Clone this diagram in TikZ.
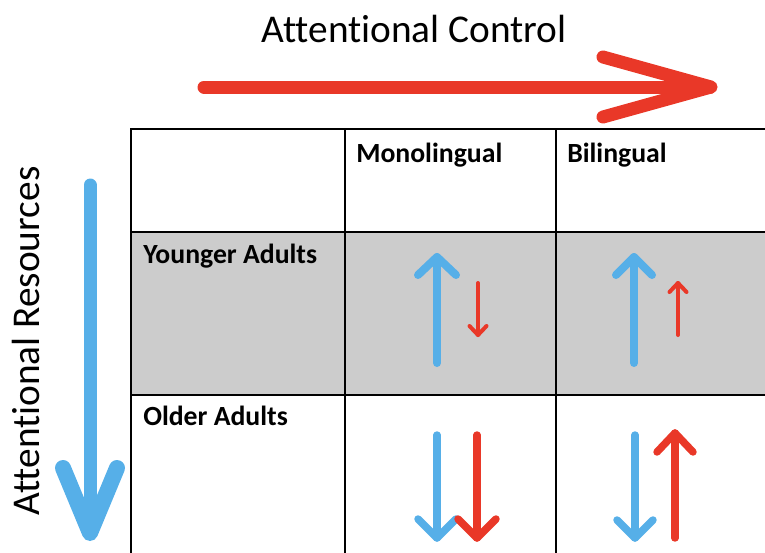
\documentclass[tikz,border=0pt]{standalone}
\usepackage{fontspec}
\setmainfont{Carlito}[Ligatures=NoCommon]
\usetikzlibrary{positioning}
\definecolor{ctrlred}{RGB}{233,56,40}
\definecolor{resblue}{RGB}{86,175,232}
\definecolor{cellgray}{RGB}{204,204,204}

\begin{document}
\begin{tikzpicture}[
    x=0.75pt, y=-0.75pt,
    gridline/.style={draw=black, line width=1.1pt},
    headtxt/.style={anchor=base west, inner sep=0pt, font=\fontsize{20.8}{24}\selectfont\bfseries},
    axistxt/.style={inner sep=0pt, font=\fontsize{29.5}{34}\selectfont},
    arr/.style={line cap=round, line join=round}
]
\useasboundingbox (0,0) rectangle (765,553);

% grey row and grid
\fill[cellgray] (131,232) rectangle (765,395);
\draw[gridline] (765,129) -- (131,129) -- (131,553);
\draw[gridline] (345,129) -- (345,553);
\draw[gridline] (556,129) -- (556,553);
\draw[gridline] (131,232) -- (765,232);
\draw[gridline] (131,395) -- (765,395);

% headings
\node[headtxt] (monohead) at (356,162) {Monolingual};
\node[headtxt] (bihead) at (567,162) {Bilingual};
\node[headtxt] (younghead) at (143,263) {Younger Adults};
\node[headtxt] (oldhead) at (143,425) {Older Adults};

% axes
\node[axistxt, anchor=base] (ctrl) at (414,42) {Attentional Control};
\node[axistxt, anchor=base west, rotate=90] (resources) at (40,516) {Attentional Resources};

\draw[arr, ctrlred, line width=9.75pt] (204,87) -- (710,87);
\draw[arr, ctrlred, line width=9.75pt] (603,57) -- (711,87) -- (603,117);
\draw[arr, resblue, line width=9.75pt] (90,185) -- (90,533);
\draw[arr, resblue, line width=12pt] (63,468) -- (90,533) -- (117,468);

% cell arrows: x / tail / tip / arm y / arm dx / colour / width
\foreach \x/\ya/\yb/\ay/\dx/\col/\lw in {
    437/363/257/275/19/resblue/6,
    478/283/335/326/8.5/ctrlred/3,
    634/363/257/275/18/resblue/6,
    678/335/283/292/8.5/ctrlred/3,
    437/435/538/519/19/resblue/5.6,
    477/435/538/519/19/ctrlred/5.6,
    635/435/538/520/18/resblue/5.6,
    675/538/433/452/18/ctrlred/5.6}
{
    \draw[arr, \col, line width=\lw pt] (\x,\ya) -- (\x,\yb);
    \draw[arr, \col, line width=\lw pt] (\x-\dx,\ay) -- (\x,\yb) -- (\x+\dx,\ay);
}
\end{tikzpicture}
\end{document}
